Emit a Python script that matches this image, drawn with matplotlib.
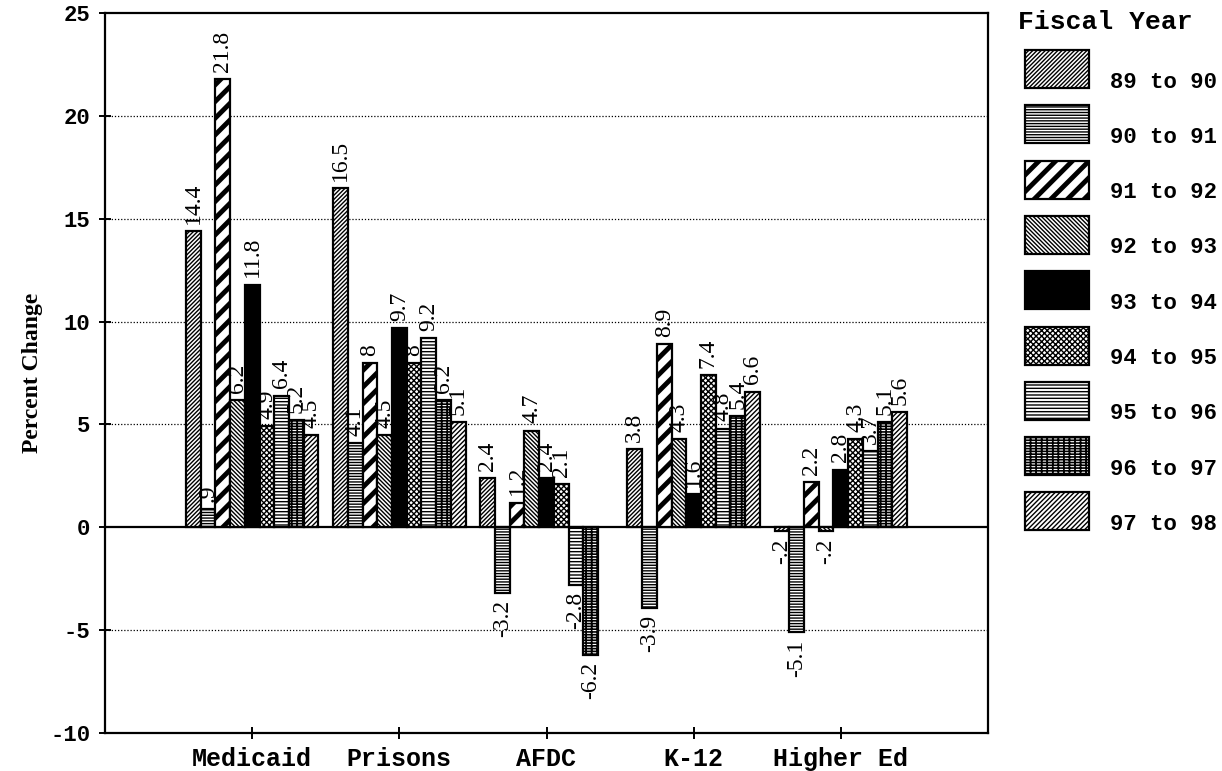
import numpy as np
import matplotlib
matplotlib.use("Agg")
import matplotlib.pyplot as plt
from matplotlib.patches import Rectangle

# Annual percent change in spending, by program and fiscal year
programs = ["Medicaid", "Prisons", "AFDC", "K-12", "Higher Ed"]
fiscal_years = ["89 to 90", "90 to 91", "91 to 92", "92 to 93", "93 to 94",
                "94 to 95", "95 to 96", "96 to 97", "97 to 98"]

medicaid = [14.4, 0.9, 21.8, 6.2, 11.8, 4.9, 6.4, 5.2, 4.5]
prisons = [16.5, 4.1, 8.0, 4.5, 9.7, 8.0, 9.2, 6.2, 5.1]
afdc = [2.4, -3.2, 1.2, 4.7, 2.4, 2.1, -2.8, -6.2, np.nan]
k12 = [3.8, -3.9, 8.9, 4.3, 1.6, 7.4, 4.8, 5.4, 6.6]
higher_ed = [-0.2, -5.1, 2.2, -0.2, 2.8, 4.3, 3.7, 5.1, 5.6]

y_ticks = [-10, -5, 0, 5, 10, 15, 20, 25]

values = np.array([medicaid, prisons, afdc, k12, higher_ed])

# fill pattern per fiscal year: (hatch, facecolor, hatch line width)
styles = [
    ("////////", "white", 1.0),
    ("------", "white", 1.0),
    ("//", "white", 3.5),
    ("\\\\\\\\\\\\\\\\", "white", 1.0),
    ("", "black", 1.0),
    ("xxxxxx", "white", 1.0),
    ("-----", "white", 1.0),
    ("+++---", "white", 1.2),
    ("///////", "white", 1.0),
]

plt.rcParams["axes.unicode_minus"] = False
MONO = "Liberation Mono"
SERIF = "Liberation Serif"

W, H, DPI = 1222, 771, 100
fig = plt.figure(figsize=(W / DPI, H / DPI), dpi=DPI)
ax = fig.add_axes([105 / W, 1 - 733 / H, 883 / W, 720 / H])

bar_w = 0.1
x = np.arange(1, len(programs) + 1)
n = len(fiscal_years)


def fmt(v):
    s = f"{v:g}"
    return s.replace("0.", ".") if abs(v) < 1 else s


def styled(patch, lw):
    if hasattr(patch, "set_hatch_linewidth"):
        patch.set_hatch_linewidth(lw)


for j, (hatch, face, hlw) in enumerate(styles):
    xs = x + (j - (n - 1) / 2) * bar_w
    vals = values[:, j]
    ok = ~np.isnan(vals)
    with plt.rc_context({"hatch.linewidth": hlw}):
        bars = ax.bar(xs[ok], vals[ok], width=bar_w, facecolor=face,
                      edgecolor="black", linewidth=1.6, hatch=hatch or None,
                      zorder=3)
        for b in bars:
            styled(b, hlw)
    for xi, v in zip(xs[ok], vals[ok]):
        off = 0.35
        ax.text(xi, v + off if v >= 0 else v - off, fmt(v), rotation=90,
                ha="center", va="bottom" if v >= 0 else "top",
                family=SERIF, fontsize=17, zorder=4)

ax.axhline(0, color="black", linewidth=1.6, zorder=2)
for g in [-5, 5, 10, 15, 20]:
    ax.axhline(g, color="black", linewidth=0.9, linestyle=(0, (1, 1.5)),
               zorder=1)

ax.set_xlim(0, 6)
ax.set_ylim(-10, 25)
ax.set_yticks(y_ticks)
ax.set_yticklabels([str(t) for t in y_ticks], family=MONO,
                   fontweight="bold", fontsize=16)
ax.set_xticks(x)
ax.set_xticklabels(programs, family=MONO, fontweight="bold", fontsize=18)
ax.tick_params(axis="y", direction="inout", length=9, width=1.4, pad=6)
ax.tick_params(axis="x", direction="inout", length=8, width=1.4, pad=6)
for sp in ax.spines.values():
    sp.set_linewidth(1.6)

ax.set_ylabel("Percent Change", family=SERIF, fontweight="bold", fontsize=17)
ax.yaxis.set_label_coords(-0.07, 0.5)

# legend panel
lax = fig.add_axes([1005 / W, 0, 217 / W, 1])
lax.set_xlim(1005, 1222)
lax.set_ylim(H, 0)
lax.axis("off")
lax.text(1018, 22, "Fiscal Year", family=MONO, fontweight="bold",
         fontsize=19, ha="left", va="center")
for j, (hatch, face, hlw) in enumerate(styles):
    top = 50 + j * 55.3
    with plt.rc_context({"hatch.linewidth": hlw}):
        r = Rectangle((1025, top), 64, 38, facecolor=face, edgecolor="black",
                      linewidth=1.6, hatch=hatch or None)
        styled(r, hlw)
        lax.add_patch(r)
    lax.text(1110, top + 32, fiscal_years[j], family=MONO, fontweight="bold",
             fontsize=16, ha="left", va="center")

fig.savefig("out.png", dpi=DPI)
